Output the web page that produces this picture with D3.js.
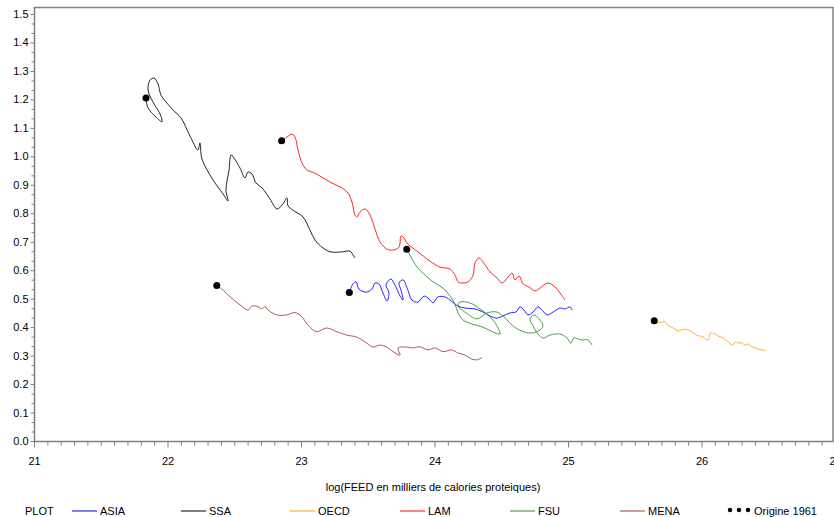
<!DOCTYPE html>
<html>
<head>
<meta charset="utf-8">
<script src="https://cdn.jsdelivr.net/npm/d3@7"></script>
<style>
    body { margin: 0; background: #fff; }
    svg text { font-family: "Liberation Sans Narrow", "Arial Narrow", "Liberation Sans", sans-serif; fill: #000; }
    .axis path, .axis line { stroke: #808080; }
    .series { fill: none; stroke-width: 1; stroke-opacity: 0.85; }
</style>
</head>
<body>
<div id="chart"></div>
<script>
// Data: log(FEED) on x, ratio on y, one point per year starting in 1961
const regions = ['ASIA', 'SSA', 'OECD', 'LAM', 'FSU', 'MENA'];
const colors = ['#0000ff', '#000000', '#ffa500', '#ff0000', '#2e8b2e', '#a03c3c'];

const asiaX = [23.362, 23.390, 23.412, 23.434, 23.487, 23.532, 23.554, 23.584, 23.614, 23.644, 23.659, 23.637, 23.674, 23.704, 23.742, 23.764, 23.749, 23.734, 23.764, 23.801, 23.831, 23.876, 23.921, 23.959, 23.989, 24.026, 24.079, 24.124, 24.176, 24.228, 24.303, 24.363, 24.416, 24.468, 24.513, 24.566, 24.610, 24.640, 24.670, 24.700, 24.738, 24.775, 24.805, 24.843, 24.888, 24.940, 24.978, 25.015, 25.030];
const asiaY = [0.522, 0.552, 0.559, 0.534, 0.523, 0.534, 0.555, 0.552, 0.520, 0.492, 0.520, 0.548, 0.569, 0.548, 0.509, 0.495, 0.530, 0.555, 0.566, 0.530, 0.495, 0.488, 0.509, 0.499, 0.485, 0.506, 0.506, 0.492, 0.474, 0.467, 0.464, 0.453, 0.439, 0.432, 0.439, 0.450, 0.453, 0.471, 0.460, 0.443, 0.453, 0.471, 0.460, 0.443, 0.453, 0.467, 0.464, 0.471, 0.460];

const ssaX = [21.839, 21.854, 21.914, 21.959, 21.944, 21.891, 21.854, 21.869, 21.899, 21.929, 21.951, 21.989, 22.041, 22.101, 22.169, 22.228, 22.243, 22.258, 22.341, 22.416, 22.453, 22.438, 22.461, 22.476, 22.498, 22.543, 22.581, 22.603, 22.633, 22.663, 22.708, 22.768, 22.820, 22.858, 22.895, 22.903, 22.940, 23.015, 23.067, 23.105, 23.165, 23.225, 23.300, 23.367, 23.390, 23.404];
const ssaY = [1.205, 1.170, 1.138, 1.121, 1.149, 1.191, 1.233, 1.268, 1.275, 1.254, 1.215, 1.191, 1.163, 1.135, 1.071, 1.022, 1.047, 0.991, 0.917, 0.868, 0.843, 0.882, 0.952, 1.005, 0.994, 0.959, 0.924, 0.945, 0.938, 0.906, 0.889, 0.850, 0.815, 0.829, 0.854, 0.826, 0.811, 0.787, 0.741, 0.706, 0.678, 0.664, 0.664, 0.667, 0.653, 0.643];

const oecdX = [25.646, 25.689, 25.727, 25.749, 25.787, 25.824, 25.876, 25.914, 25.964, 26.011, 26.049, 26.064, 26.101, 26.124, 26.161, 26.199, 26.236, 26.251, 26.273, 26.301, 26.326, 26.348, 26.376, 26.401, 26.423, 26.451, 26.483];
const oecdY = [0.422, 0.416, 0.419, 0.407, 0.397, 0.387, 0.393, 0.387, 0.372, 0.366, 0.355, 0.379, 0.376, 0.369, 0.362, 0.349, 0.337, 0.349, 0.344, 0.345, 0.337, 0.341, 0.331, 0.327, 0.323, 0.320, 0.317];

const lamX = [22.855, 22.895, 22.933, 22.955, 22.978, 23.007, 23.045, 23.105, 23.165, 23.232, 23.307, 23.352, 23.382, 23.404, 23.419, 23.442, 23.479, 23.517, 23.554, 23.592, 23.644, 23.689, 23.734, 23.749, 23.764, 23.801, 23.869, 23.966, 24.041, 24.116, 24.154, 24.176, 24.213, 24.251, 24.288, 24.303, 24.333, 24.363, 24.416, 24.468, 24.506, 24.551, 24.581, 24.603, 24.633, 24.663, 24.708, 24.753, 24.790, 24.850, 24.903, 24.940, 24.978];
const lamY = [1.055, 1.068, 1.078, 1.068, 1.022, 0.977, 0.952, 0.941, 0.924, 0.906, 0.889, 0.871, 0.840, 0.794, 0.787, 0.804, 0.815, 0.794, 0.745, 0.699, 0.674, 0.671, 0.681, 0.720, 0.717, 0.692, 0.667, 0.632, 0.611, 0.604, 0.583, 0.559, 0.555, 0.559, 0.580, 0.625, 0.643, 0.629, 0.594, 0.573, 0.555, 0.576, 0.590, 0.566, 0.580, 0.552, 0.541, 0.527, 0.537, 0.555, 0.541, 0.520, 0.495];

const fsuX = [23.792, 23.816, 23.869, 23.929, 23.989, 24.064, 24.116, 24.154, 24.176, 24.213, 24.281, 24.363, 24.438, 24.491, 24.468, 24.416, 24.341, 24.266, 24.191, 24.176, 24.228, 24.318, 24.393, 24.468, 24.521, 24.588, 24.655, 24.730, 24.790, 24.813, 24.783, 24.745, 24.715, 24.738, 24.775, 24.813, 24.865, 24.940, 24.993, 25.022, 25.045, 25.097, 25.150, 25.180];
const fsuY = [0.674, 0.653, 0.611, 0.583, 0.559, 0.537, 0.509, 0.481, 0.450, 0.425, 0.411, 0.400, 0.383, 0.376, 0.404, 0.436, 0.464, 0.485, 0.488, 0.474, 0.453, 0.429, 0.450, 0.453, 0.436, 0.404, 0.386, 0.379, 0.390, 0.404, 0.429, 0.443, 0.429, 0.404, 0.376, 0.362, 0.372, 0.376, 0.362, 0.344, 0.362, 0.355, 0.355, 0.337];

const menaX = [22.369, 22.406, 22.468, 22.543, 22.603, 22.631, 22.678, 22.706, 22.730, 22.753, 22.818, 22.893, 22.955, 23.005, 23.052, 23.118, 23.192, 23.268, 23.342, 23.417, 23.492, 23.539, 23.592, 23.642, 23.689, 23.742, 23.727, 23.792, 23.839, 23.891, 23.951, 24.004, 24.064, 24.129, 24.176, 24.228, 24.279, 24.316, 24.354];
const menaY = [0.546, 0.534, 0.507, 0.478, 0.460, 0.474, 0.472, 0.464, 0.472, 0.460, 0.443, 0.443, 0.451, 0.437, 0.407, 0.384, 0.397, 0.384, 0.372, 0.365, 0.344, 0.330, 0.337, 0.330, 0.314, 0.302, 0.327, 0.330, 0.327, 0.331, 0.320, 0.327, 0.314, 0.320, 0.309, 0.302, 0.288, 0.285, 0.292];

const xTicks = [21, 22, 23, 24, 25, 26, 27];
const yTicks = [0, 0.1, 0.2, 0.3, 0.4, 0.5, 0.6, 0.7, 0.8, 0.9, 1.0, 1.1, 1.2, 1.3, 1.4, 1.5];
const xLabel = 'log(FEED en milliers de calories proteiques)';
const originLabel = 'Origine 1961';

const seriesX = [asiaX, ssaX, oecdX, lamX, fsuX, menaX];
const seriesY = [asiaY, ssaY, oecdY, lamY, fsuY, menaY];

// Configuration
const config = {
    width: 834,
    height: 517,
    left: 34,
    right: 835,
    top: 7,
    bottom: 441,
    yTopPx: 14
};

const x = d3.scaleLinear().domain([21, 27]).range([config.left, config.right]);
const y = d3.scaleLinear().domain([0, 1.5]).range([config.bottom, config.yTopPx]);

const svg = d3.select('#chart')
    .append('svg')
    .attr('width', config.width)
    .attr('height', config.height);

// Frame
svg.append('rect')
    .attr('x', config.left + 0.5)
    .attr('y', config.top + 0.5)
    .attr('width', config.width - config.left - 1.5)
    .attr('height', config.bottom - config.top)
    .attr('fill', 'none')
    .attr('stroke', '#808080')
    .attr('stroke-width', 1.5);

// Minor ticks
const xMinor = d3.range(210, 271).map(v => v / 10).filter(v => !xTicks.includes(v));
const yMinor = d3.range(0, 46).map(v => v / 30).filter(v => Math.abs(v * 10 - Math.round(v * 10)) > 1e-6);

svg.append('g')
    .attr('class', 'axis')
    .attr('transform', `translate(0,${config.bottom + 0.5})`)
    .call(d3.axisBottom(x).tickValues(xMinor).tickSize(4).tickFormat(''))
    .call(g => g.select('.domain').remove());

svg.append('g')
    .attr('class', 'axis')
    .attr('transform', `translate(${config.left + 0.5},0)`)
    .call(d3.axisLeft(y).tickValues(yMinor).tickSize(3).tickFormat(''))
    .call(g => g.select('.domain').remove());

// Major ticks + labels
svg.append('g')
    .attr('class', 'axis')
    .attr('transform', `translate(0,${config.bottom + 0.5})`)
    .call(d3.axisBottom(x).tickValues(xTicks).tickSize(6).tickPadding(10).tickFormat(d3.format('d')))
    .call(g => g.select('.domain').remove())
    .call(g => g.selectAll('text').attr('font-size', 11));

svg.append('g')
    .attr('class', 'axis')
    .attr('transform', `translate(${config.left + 0.5},0)`)
    .call(d3.axisLeft(y).tickValues(yTicks).tickSize(4).tickPadding(2).tickFormat(d3.format('.1f')))
    .call(g => g.select('.domain').remove())
    .call(g => g.selectAll('text').attr('font-size', 11));

// Axis title
svg.append('text')
    .attr('x', 433)
    .attr('y', 491)
    .attr('text-anchor', 'middle')
    .attr('font-size', 11)
    .text(xLabel);

// Curves
const line = d3.line()
    .x(d => x(d[0]))
    .y(d => y(d[1]))
    .curve(d3.curveCatmullRom.alpha(0.5));

regions.forEach((name, i) => {
    const pts = seriesX[i].map((v, j) => [v, seriesY[i][j]]);
    svg.append('path')
        .datum(pts)
        .attr('class', 'series')
        .attr('stroke', colors[i])
        .attr('d', line);
});

// Origin dots
svg.selectAll('.origin')
    .data(regions.map((r, i) => [seriesX[i][0], seriesY[i][0]]))
    .join('circle')
    .attr('class', 'origin')
    .attr('cx', d => x(d[0]))
    .attr('cy', d => y(d[1]))
    .attr('r', 3.5)
    .attr('fill', '#000');

// Legend
const legendY = 511;
const legend = svg.append('g').attr('font-size', 11);
legend.append('text').attr('x', 25).attr('y', legendY + 4).text('PLOT');

const legendX = [72, 181, 290, 400, 510, 620];
regions.forEach((name, i) => {
    legend.append('line')
        .attr('x1', legendX[i]).attr('x2', legendX[i] + 25)
        .attr('y1', legendY).attr('y2', legendY)
        .attr('stroke', colors[i]);
    legend.append('text')
        .attr('x', legendX[i] + 28)
        .attr('y', legendY + 4)
        .text(name);
});

legend.selectAll('.ldot')
    .data([730, 739, 748])
    .join('circle')
    .attr('cx', d => d)
    .attr('cy', legendY - 1)
    .attr('r', 2.2)
    .attr('fill', '#000');
legend.append('text').attr('x', 754).attr('y', legendY + 4).text(originLabel);
</script>
</body>
</html>
